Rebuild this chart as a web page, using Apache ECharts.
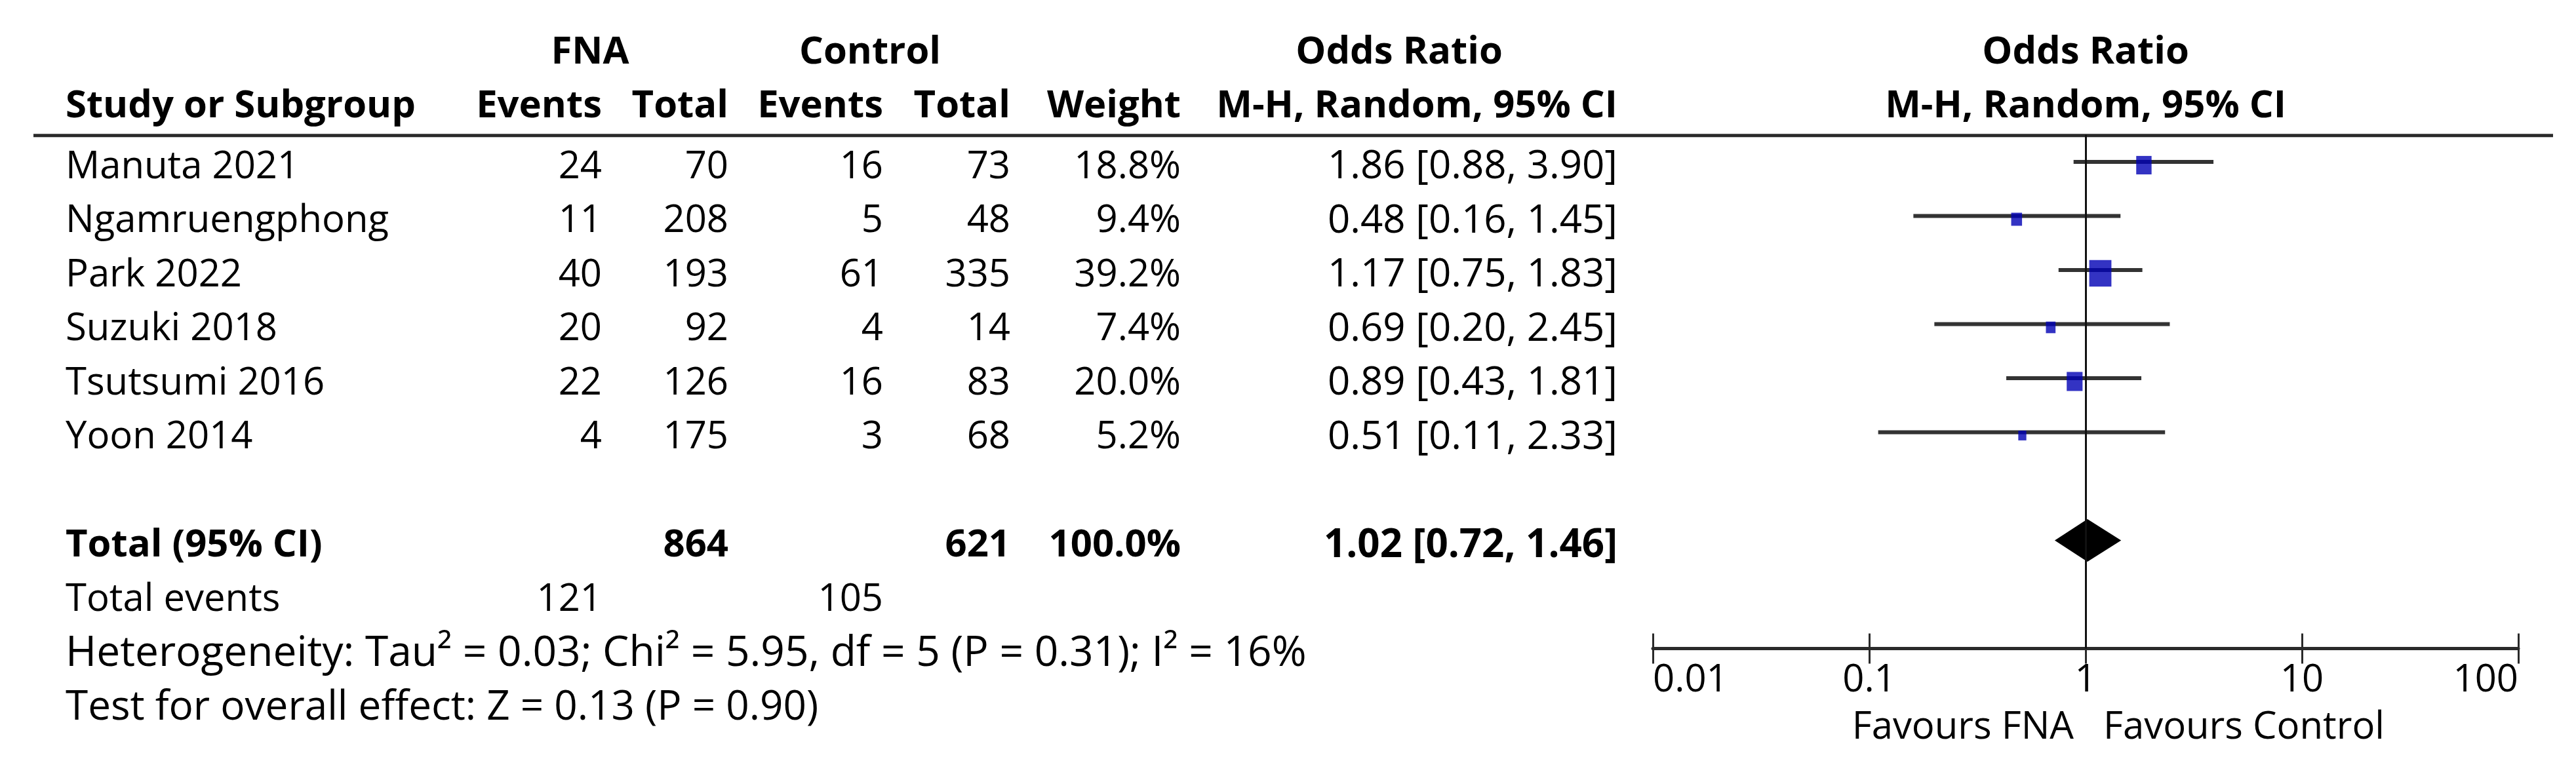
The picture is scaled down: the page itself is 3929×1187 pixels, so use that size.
<!DOCTYPE html>
<html><head><meta charset="utf-8">
<script src="https://cdn.jsdelivr.net/npm/echarts@6/dist/echarts.min.js"></script>
<style>html,body{margin:0;padding:0;background:#fff}#c{width:3929px;height:1187px}</style>
</head><body><div id="c"></div>
<script>
// ---------------- data ----------------
const studies    = ['Manuta 2021','Ngamruengphong','Park 2022','Suzuki 2018','Tsutsumi 2016','Yoon 2014'];
const fnaEvents  = [24, 11, 40, 20, 22, 4];
const fnaTotal   = [70, 208, 193, 92, 126, 175];
const ctrlEvents = [16, 5, 61, 4, 16, 3];
const ctrlTotal  = [73, 48, 335, 14, 83, 68];
const weights    = [18.8, 9.4, 39.2, 7.4, 20.0, 5.2];
const oddsRatio  = [1.86, 0.48, 1.17, 0.69, 0.89, 0.51];
const ciLow      = [0.88, 0.16, 0.75, 0.20, 0.43, 0.11];
const ciHigh     = [3.90, 1.45, 1.83, 2.45, 1.81, 2.33];
const pooled     = [1.02, 0.72, 1.46];          // OR, low, high
const pooledWeight = '100.0%';
const groupHeaders  = ['FNA', 'Control', 'Odds Ratio', 'Odds Ratio'];
const columnHeaders = ['Study or Subgroup','Events','Total','Events','Total','Weight','M-H, Random, 95% CI','M-H, Random, 95% CI'];
const summaryLabels = ['Total (95% CI)', 'Total events'];
const heterogeneityText = 'Heterogeneity: Tau² = 0.03; Chi² = 5.95, df = 5 (P = 0.31); I² = 16%';
const overallText = 'Test for overall effect: Z = 0.13 (P = 0.90)';
const tickValues = [0.01, 0.1, 1, 10, 100];
const favourLabels = ['Favours FNA', 'Favours Control'];

// ---------------- layout ----------------
const W = 3929, H = 1187;
const ROW0 = 247, ROWH = 82.5;
const YMIN = -0.5, YMAX = 9;
const TEXT_DY = 8;
const FS = 58;
const FONT = 'Open Sans';
const INK = '#2a2a2a';
const COLS = {
  name:{x:100,align:'left'}, fnaE:{x:918,align:'right'}, fnaT:{x:1111,align:'right'},
  ctlE:{x:1347,align:'right'}, ctlT:{x:1541,align:'right'}, wt:{x:1801,align:'right'},
  ci:{x:2467,align:'right'}, fnaHead:{x:900,align:'center'}, ctlHead:{x:1327,align:'center'},
  orHead:{x:2134,align:'center'}, plot:{x:null,align:'center'},
  favL:{x:null,align:'right',dx:-18}, favR:{x:null,align:'left',dx:27}
};
const ROW_HEAD1 = -2.11, ROW_HEAD2 = -1.12, ROW_TOTAL = 7, ROW_EVENTS = 8, ROW_HET = 9, ROW_TEST = 10, ROW_FAV = 10.37;

const fmt2 = v => v.toFixed(2);
const ciText = (o,l,h) => `${fmt2(o)} [${fmt2(l)}, ${fmt2(h)}]`;
const sum = a => a.reduce((s,v)=>s+v,0);

// ---------------- table cells ----------------
const cells = [];
const add = (row,col,text,bold,size) => cells.push({row,col,text:String(text),bold:!!bold,size:size||FS});
add(ROW_HEAD1,'fnaHead',groupHeaders[0],1);
add(ROW_HEAD1,'ctlHead',groupHeaders[1],1);
add(ROW_HEAD1,'orHead',groupHeaders[2],1);
add(ROW_HEAD1,'plot',groupHeaders[3],1);
['name','fnaE','fnaT','ctlE','ctlT','wt','ci','plot'].forEach((c,i)=>add(ROW_HEAD2,c,columnHeaders[i],1));
studies.forEach((s,i)=>{
  add(i,'name',s); add(i,'fnaE',fnaEvents[i]); add(i,'fnaT',fnaTotal[i]);
  add(i,'ctlE',ctrlEvents[i]); add(i,'ctlT',ctrlTotal[i]);
  add(i,'wt',weights[i].toFixed(1)+'%'); add(i,'ci',ciText(oddsRatio[i],ciLow[i],ciHigh[i]),0,60);
});
add(ROW_TOTAL,'name',summaryLabels[0],1); add(ROW_TOTAL,'fnaT',sum(fnaTotal),1);
add(ROW_TOTAL,'ctlT',sum(ctrlTotal),1); add(ROW_TOTAL,'wt',pooledWeight,1);
add(ROW_TOTAL,'ci',ciText(pooled[0],pooled[1],pooled[2]),1,60);
add(ROW_EVENTS,'name',summaryLabels[1]); add(ROW_EVENTS,'fnaE',sum(fnaEvents)); add(ROW_EVENTS,'ctlE',sum(ctrlEvents));
add(ROW_HET,'name',heterogeneityText,0,64);
add(ROW_TEST,'name',overallText,0,62);
add(ROW_FAV,'favL',favourLabels[0]);
add(ROW_FAV,'favR',favourLabels[1]);

const gridTop = ROW0 + YMIN*ROWH;
const gridBottomPx = ROW0 + YMAX*ROWH;

const chart = echarts.init(document.getElementById('c'), null, {renderer:'canvas'});
const labelFmt = v => String(+(+v).toPrecision(3));
chart.setOption({
  animation:false,
  backgroundColor:'#fff',
  grid:{left:2521, right:W-3841, top:gridTop, bottom:H-gridBottomPx, outerBoundsMode:'none', containLabel:false},
  xAxis:[{
    type:'log', logBase:10, min:tickValues[0], max:tickValues[tickValues.length-1], position:'bottom',
    axisLine:{show:true, onZero:false, lineStyle:{color:INK, width:5}},
    axisTick:{show:true, inside:false, length:23, lineStyle:{color:INK, width:3}},
    axisLabel:{show:true, margin:20, formatter:labelFmt, color:'#000', fontSize:FS, fontFamily:FONT,
               alignMinLabel:'left', alignMaxLabel:'right', showMinLabel:true, showMaxLabel:true},
    splitLine:{show:false}, minorTick:{show:false}
  },{
    type:'log', logBase:10, min:tickValues[0], max:tickValues[tickValues.length-1], position:'bottom',
    axisLine:{show:false, onZero:false},
    axisTick:{show:true, inside:true, length:23, lineStyle:{color:INK, width:3}},
    axisLabel:{show:false}, splitLine:{show:false}
  }],
  yAxis:{type:'value', min:YMIN, max:YMAX, inverse:true, show:false, splitLine:{show:false}},
  graphic:[{
    type:'line', shape:{x1:51, y1:gridTop+1, x2:3894, y2:gridTop+1},
    style:{stroke:INK, lineWidth:5}, z:5
  }],
  series:[
    { // confidence intervals
      type:'custom', name:'CI', coordinateSystem:'cartesian2d', clip:false, z:3,
      data: studies.map((s,i)=>[ciLow[i], ciHigh[i], i]),
      encode:{x:[0,1], y:2},
      renderItem:(params, api)=>{
        const p1 = api.coord([api.value(0), api.value(2)]);
        const p2 = api.coord([api.value(1), api.value(2)]);
        return {type:'line', shape:{x1:p1[0], y1:p1[1], x2:p2[0], y2:p2[1]},
                style:{stroke:'#333', lineWidth:6}};
      },
      markLine:{
        silent:true, symbol:'none', label:{show:false},
        lineStyle:{color:'#111', width:3, type:'solid'},
        data:[{xAxis:1}]
      }
    },
    { // study boxes
      type:'scatter', name:'Odds ratio', z:4,
      symbol:'rect',
      data: studies.map((s,i)=>[oddsRatio[i], i, weights[i]]),
      symbolSize: v => [5.4*Math.sqrt(v[2]), 6.5*Math.sqrt(v[2])],
      symbolOffset:[0,5],
      itemStyle:{color:'#0000b4'}
    },
    { // pooled diamond
      type:'custom', name:'Pooled', coordinateSystem:'cartesian2d', clip:false, z:4,
      data:[[pooled[1], pooled[2], pooled[0], ROW_TOTAL]],
      encode:{x:[0,1,2], y:3},
      renderItem:(params, api)=>{
        const y = api.value(3);
        const l = api.coord([api.value(0), y]);
        const r = api.coord([api.value(1), y]);
        const c = api.coord([api.value(2), y]);
        const hh = 32.5;
        return {type:'polygon', shape:{points:[[l[0],l[1]],[c[0],c[1]-hh],[r[0],r[1]],[c[0],c[1]+hh]]},
                style:{fill:'#000'}};
      }
    },
    { // table text
      type:'custom', name:'Table', coordinateSystem:'cartesian2d', clip:false, z:6, silent:true,
      data: cells.map((c,i)=>[1, c.row, i]),
      encode:{x:0, y:1},
      renderItem:(params, api)=>{
        const cell = cells[api.value(2)];
        const col = COLS[cell.col];
        const base = api.coord([1, cell.row]);
        let x = col.x;
        if (x === null) x = base[0] + (col.dx || 0);
        return {type:'text', style:{
          text:cell.text, x:x, y:base[1]+TEXT_DY, align:col.align, verticalAlign:'middle',
          fontSize:cell.size, fontFamily:FONT, fontWeight:cell.bold?'bold':'normal', fill:'#000'
        }};
      }
    }
  ]
});
</script></body></html>
